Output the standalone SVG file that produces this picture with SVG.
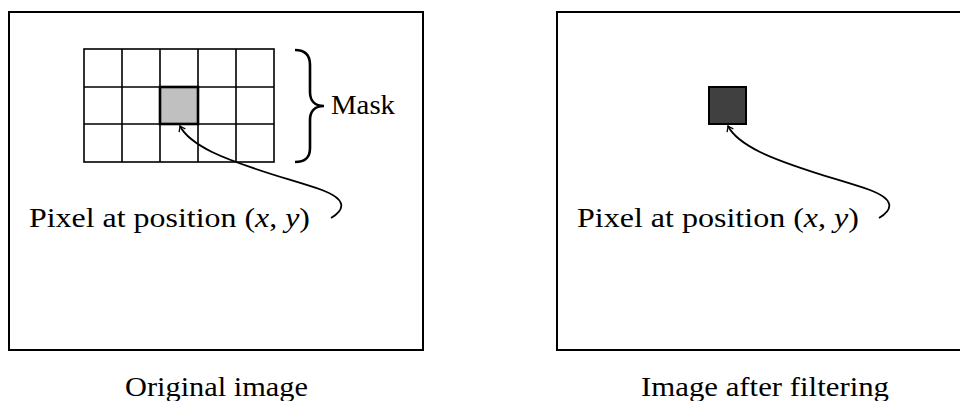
<svg xmlns="http://www.w3.org/2000/svg" width="960" height="401" viewBox="0 0 960 401">
<style>
.frame{fill:none;stroke:#000;stroke-width:2}
.grid{fill:none;stroke:#000;stroke-width:1.6}
.t{font-family:"Liberation Serif","DejaVu Serif",serif;font-size:27px;fill:#000}
.m{font-style:italic}
.conn{fill:none;stroke:#000;stroke-width:1.8}
</style>
<defs>
<marker id="ah" viewBox="-6 -5 8 10" markerWidth="8" markerHeight="10" refX="0" refY="0" orient="auto" markerUnits="userSpaceOnUse">
<path d="M-5,-3.5 Q-1.5,-0.8 0,0 Q-1.5,0.8 -5,3.5" fill="none" stroke="#000" stroke-width="1.3"/>
</marker>
</defs>
<rect width="960" height="401" fill="#fff"/>
<g id="original-frame">
<rect class="frame" x="9" y="12" width="414" height="338"/>
<text class="t" x="125" y="396" textLength="183" lengthAdjust="spacingAndGlyphs">Original image</text>
</g>
<g id="mask">
<rect class="grid" x="84" y="49" width="190" height="113"/>
<path class="grid" d="M122,49V162M160,49V162M198,49V162M236,49V162M84,87H274M84,124H274"/>
<rect x="160" y="87" width="38" height="37" fill="#c0c0c0" stroke="#000" stroke-width="2.6"/>
<path d="M295,50 C305,50 310,55 310,65 L310,92 C310,101 315,106 324,106 C315,106 310,111 310,120 L310,148 C310,158 305,162 295,162" fill="none" stroke="#000" stroke-width="2.6"/>
<text class="t" x="331" y="114" textLength="64" lengthAdjust="spacingAndGlyphs">Mask</text>
</g>
<g id="pixel-label-left">
<text class="t" x="29" y="227" textLength="281" lengthAdjust="spacingAndGlyphs">Pixel at position (<tspan class="m">x</tspan>, <tspan class="m">y</tspan>)</text>
</g>
<g id="filtered-frame">
<rect class="frame" x="557" y="12" width="414" height="338"/>
<text class="t" x="641" y="396" textLength="248" lengthAdjust="spacingAndGlyphs">Image after filtering</text>
</g>
<g id="filtered-pixel">
<rect x="709" y="87" width="37" height="37" fill="#404040" stroke="#000" stroke-width="2"/>
</g>
<g id="pixel-label-right">
<text class="t" x="577" y="227" textLength="282" lengthAdjust="spacingAndGlyphs">Pixel at position (<tspan class="m">x</tspan>, <tspan class="m">y</tspan>)</text>
</g>
<g id="connectors">
<path class="conn" marker-end="url(#ah)" d="M331,218 C346,209 346,199 322,190 C290,179 245,168 212,152 C192,142 184,134 180,126"/>
<path class="conn" marker-end="url(#ah)" d="M879,218 C894,209 894,199 870,190 C838,179 793,168 760,152 C740,142 732,134 728,126"/>
</g>
</svg>
